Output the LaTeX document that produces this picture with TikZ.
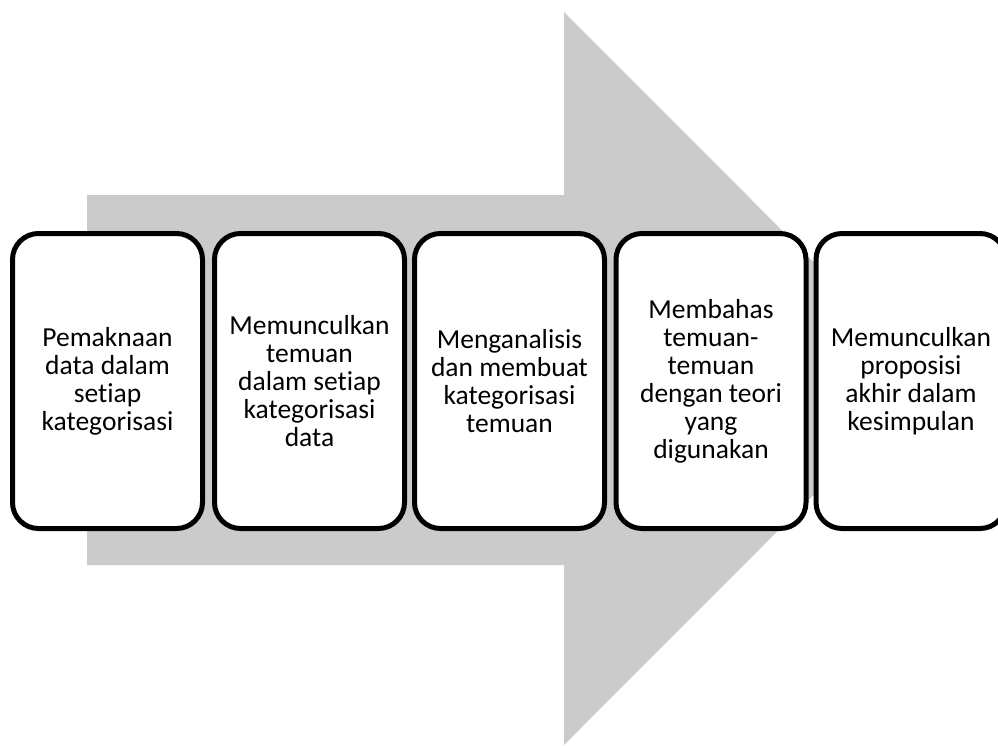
\documentclass[tikz,border=0pt]{standalone}
\usepackage{fontspec}
\setmainfont{Carlito}[Ligatures=NoCommon]
\definecolor{arrowgray}{RGB}{203,203,203}
\begin{document}
\begin{tikzpicture}[x=1pt,y=-1pt,
  stepbox/.style={draw=black, line width=5pt, fill=white, rounded corners=26pt,
    minimum width=190pt, minimum height=295pt, inner sep=0pt, align=center,
    font=\fontsize{27.5}{28}\selectfont}]
\useasboundingbox (0,0) rectangle (998,745);
% big background arrow
\fill[arrowgray] (87,195) -- (564,195) -- (564,12) -- (930,378.5) -- (564,745)
  -- (564,565) -- (87,565) -- cycle;
% boxes
\node[stepbox] (b1) at (107.5,381) {Pemaknaan\\data dalam\\setiap\\kategorisasi};
\node[stepbox] (b2) at (309.5,381) {Memunculkan\\temuan\\dalam setiap\\kategorisasi\\data};
\node[stepbox] (b3) at (509.5,381) {Menganalisis\\dan membuat\\kategorisasi\\temuan};
\node[stepbox] (b4) at (711,381) {Membahas\\temuan-\\temuan\\dengan teori\\yang\\digunakan};
\node[stepbox] (b5) at (911,381) {Memunculkan\\proposisi\\akhir dalam\\kesimpulan};
\end{tikzpicture}
\end{document}
